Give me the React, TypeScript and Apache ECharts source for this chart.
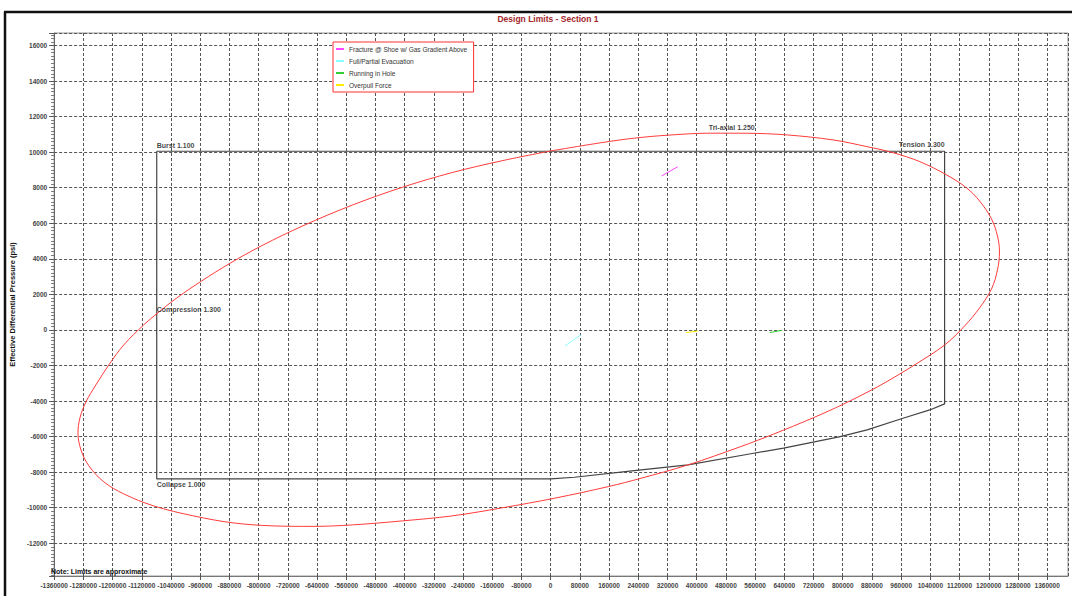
import { useEffect, useRef } from "react";
import * as echarts from "echarts";

const FONT = "'Liberation Sans', Arial, sans-serif";

// Axial force (lbf) vs effective differential pressure (psi)
const triaxialEnvelope: [number, number][] = [
  [0, 10065], [139000, 10532], [229000, 10785], [321600, 10954], [438800, 11066],
  [539700, 11060], [648700, 10965], [774100, 10684], [866800, 10307], [937600, 9970],
  [1011200, 9464], [1084800, 8716], [1139300, 7985], [1174800, 7254], [1207500, 6242],
  [1223800, 5286], [1229300, 4386], [1223800, 3374], [1207500, 2305], [1174800, 1237],
  [1133900, 225], [1079400, -843], [997600, -1957], [921300, -2901], [883100, -3334],
  [801400, -4178], [719600, -4937], [610600, -5859], [520600, -6562], [376200, -7591],
  [248000, -8339], [158100, -8811], [10900, -9464], [-133600, -10009], [-269800, -10459],
  [-406100, -10740], [-542400, -10965], [-651400, -11049], [-760500, -11021], [-869500, -10852],
  [-978500, -10459], [-1087600, -9896], [-1169300, -9222], [-1223800, -8547], [-1264700, -7647],
  [-1286500, -6748], [-1294700, -5792], [-1289300, -4948], [-1272900, -4049], [-1245600, -3093],
  [-1210200, -1968], [-1169300, -843], [-1114800, 281], [-1078500, 917], [-1024000, 1799],
  [-955900, 2755], [-878500, 3745], [-790500, 4746], [-678700, 5854], [-542400, 7029],
  [-406100, 8024], [-269800, 8851], [-133600, 9514], [0, 10065],
];

const designLimits: [number, number][] = [
  [-1079000, 10050], [1079000, 10050], [1079000, -4160], [1038500, -4500], [964900, -4965],
  [866800, -5625], [793200, -6000], [637800, -6650], [556000, -6935], [376200, -7590],
  [229000, -7910], [65400, -8285], [0, -8380], [-1079000, -8380], [-1079000, 10050],
];

const fractureAtShoe: [number, number][] = [[304000, 8660], [348000, 9180]];
const fullPartialEvacuation: [number, number][] = [[39000, -900], [83000, -280]];
const runningInHole: [number, number][] = [[600000, -150], [634000, -20]];
const overpullForce: [number, number][] = [[371000, -150], [403000, -60]];

const loadCaseNames = [
  "Fracture @ Shoe w/ Gas Gradient Above",
  "Full/Partial Evacuation",
  "Running in Hole",
  "Overpull Force",
];
const loadCaseColors = ["#ff44ff", "#88ffff", "#33cc33", "#ffee00"];

const limitLabelText = ["Burst 1.100", "Tri-axial 1.250", "Tension 1.300", "Compression 1.300", "Collapse 1.000"];
const limitLabelAt: [number, number][] = [
  [-1079000, 10050], [433000, 11410], [1079000, 10050], [-1079000, 1125], [-1079000, -8380],
];

const xMin = -1360000;
const xMax = 1417000;
const xStep = 80000;
const yMin = -13840;
const yMax = 16700;

export default function App() {
  const ref = useRef<HTMLDivElement>(null);

  useEffect(() => {
    if (!ref.current) return;
    const chart = echarts.init(ref.current, undefined, { renderer: "svg" });

    const labelPlacement = [
      { position: [0, -6], align: "left" },
      { position: [0, 0], align: "left" },
      { position: [0, -7], align: "right" },
      { position: [0, 0], align: "left" },
      { position: [0, 6], align: "left" },
    ];

    const loadSeries = [fractureAtShoe, fullPartialEvacuation, runningInHole, overpullForce].map(
      (pts, i) => ({
        name: loadCaseNames[i],
        type: "line",
        data: pts,
        color: loadCaseColors[i],
        showSymbol: false,
        symbol: "none",
        lineStyle: { color: loadCaseColors[i], width: 1 },
        z: 5,
      })
    );

    chart.setOption({
      animation: false,
      backgroundColor: "#ffffff",
      textStyle: { fontFamily: FONT },
      grid: {
        left: 51,
        top: 33,
        right: 4,
        bottom: 20,
        show: true,
        borderColor: "#999999",
        borderWidth: 1,
        backgroundColor: "#ffffff",
      },
      legend: {
        data: loadCaseNames,
        left: 333,
        top: 42,
        orient: "vertical",
        icon: "rect",
        itemWidth: 8,
        itemHeight: 2,
        itemGap: 4,
        padding: [3, 6, 3, 3],
        borderColor: "#ff3030",
        borderWidth: 1,
        backgroundColor: "#ffffff",
        textStyle: { fontSize: 6.5, color: "#333333", lineHeight: 8, fontFamily: FONT },
      },
      xAxis: {
        type: "value",
        min: xMin,
        max: xMax,
        interval: xStep,
        axisLine: { show: true, onZero: false, lineStyle: { color: "#777777" } },
        axisTick: { show: true, length: 4, lineStyle: { color: "#555555" } },
        axisLabel: {
          show: true,
          margin: 6,
          fontSize: 6.5,
          fontWeight: "bold",
          color: "#444444",
          fontFamily: FONT,
          showMaxLabel: false,
          hideOverlap: false,
          formatter: (v: number) => String(v),
        },
        splitLine: { show: true, lineStyle: { color: "#555555", type: [3, 2], width: 1 } },
      },
      yAxis: {
        type: "value",
        min: yMin,
        max: yMax,
        splitNumber: 15,
        name: "Effective Differential Pressure (psi)",
        nameLocation: "middle",
        nameGap: 31,
        nameTextStyle: { fontSize: 7.5, fontWeight: "bold", color: "#111111", fontFamily: FONT },
        axisLine: { show: true, onZero: false, lineStyle: { color: "#666666" } },
        axisTick: { show: true, length: 5, lineStyle: { color: "#555555" } },
        minorTick: { show: true, splitNumber: 10, length: 3, lineStyle: { color: "#777777" } },
        axisLabel: {
          margin: 7,
          fontSize: 6.5,
          fontWeight: "bold",
          color: "#444444",
          fontFamily: FONT,
          showMinLabel: false,
          showMaxLabel: false,
          formatter: (v: number) => String(v),
        },
        splitLine: { show: true, lineStyle: { color: "#555555", type: [3, 2], width: 1 } },
      },
      series: [
        {
          name: "Design Limits",
          type: "line",
          data: designLimits,
          showSymbol: false,
          symbol: "none",
          lineStyle: { color: "#444444", width: 1.2 },
          z: 3,
        },
        {
          name: "Tri-axial",
          type: "line",
          data: triaxialEnvelope,
          showSymbol: false,
          symbol: "none",
          smooth: 0.35,
          lineStyle: { color: "#ff3b3b", width: 1 },
          z: 4,
        },
        ...loadSeries,
        {
          name: "Limit Labels",
          type: "scatter",
          symbolSize: 0,
          z: 6,
          data: limitLabelText.map((t, i) => ({
            value: limitLabelAt[i],
            name: t,
            label: {
              show: true,
              formatter: t,
              position: labelPlacement[i].position,
              align: labelPlacement[i].align,
              verticalAlign: "middle",
              fontSize: 7,
              fontWeight: "bold",
              color: "#111111",
              fontFamily: FONT,
            },
          })),
        },
      ],
      graphic: [
        {
          type: "line",
          shape: { x1: 5, y1: 12, x2: 5, y2: 596 },
          style: { stroke: "#111111", lineWidth: 2.5 },
        },
        {
          type: "line",
          shape: { x1: 4, y1: 12, x2: 1072, y2: 12 },
          style: { stroke: "#111111", lineWidth: 2.5 },
        },
        {
          type: "text",
          x: 548,
          y: 19,
          style: {
            text: "Design Limits - Section 1",
            align: "center",
            verticalAlign: "middle",
            fill: "#a3262a",
            fontSize: 8.5,
            fontWeight: "bold",
            fontFamily: FONT,
          },
        },
        {
          type: "text",
          x: 51,
          y: 571,
          z: 10,
          style: {
            text: "Note: Limits are approximate",
            align: "left",
            verticalAlign: "middle",
            fill: "#111111",
            fontSize: 7,
            fontWeight: "bold",
            fontFamily: FONT,
          },
        },
      ],
    });

    return () => chart.dispose();
  }, []);

  return (
    <div
      ref={ref}
      style={{ position: "absolute", left: 0, top: 0, width: 1072, height: 596, background: "#ffffff" }}
    />
  );
}
